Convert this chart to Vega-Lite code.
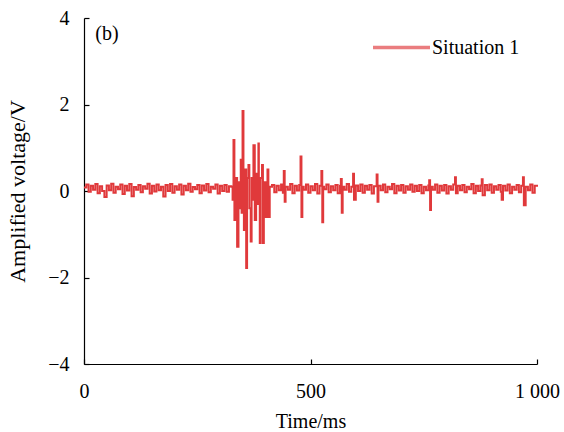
{
  "$schema": "https://vega.github.io/schema/vega-lite/v6.json",
  "width": 453,
  "height": 346,
  "autosize": {"type": "none"},
  "padding": {"left": 84, "top": 18, "right": 27, "bottom": 68},
  "config": {
    "font": "Liberation Serif, Times New Roman, serif",
    "view": {"stroke": null},
    "axis": {"grid": false, "domainColor": "#000", "tickColor": "#000", "labelColor": "#000", "titleColor": "#000", "labelFont": "Liberation Serif, Times New Roman, serif", "titleFont": "Liberation Serif, Times New Roman, serif", "labelFontSize": 20, "titleFontSize": 20, "titleFontWeight": "normal", "domainWidth": 1.2, "tickWidth": 1.2, "labelFlush": false}
  },
  "datasets": {
    "sig": [
      {"t":0,"v":0.08},{"t":5,"v":0.15},{"t":10,"v":-0.02},{"t":15,"v":0.12},{"t":20,"v":0.03},{"t":25,"v":0.16},{"t":30,"v":-0.05},{"t":35,"v":0.11},{"t":40,"v":0.0},{"t":45,"v":-0.14},
      {"t":50,"v":0.13},{"t":55,"v":0.02},{"t":60,"v":0.17},{"t":65,"v":-0.04},{"t":70,"v":0.1},{"t":75,"v":0.04},{"t":80,"v":0.15},{"t":85,"v":-0.07},{"t":90,"v":0.12},{"t":95,"v":0.01},
      {"t":100,"v":0.16},{"t":105,"v":-0.12},{"t":110,"v":0.09},{"t":115,"v":0.03},{"t":120,"v":0.14},{"t":125,"v":-0.03},{"t":130,"v":0.11},{"t":135,"v":0.05},{"t":140,"v":0.17},{"t":145,"v":-0.06},
      {"t":150,"v":0.12},{"t":155,"v":-0.01},{"t":160,"v":0.15},{"t":165,"v":0.02},{"t":170,"v":0.1},{"t":175,"v":-0.13},{"t":180,"v":0.14},{"t":185,"v":0.0},{"t":190,"v":0.16},{"t":195,"v":-0.04},
      {"t":200,"v":0.11},{"t":205,"v":0.03},{"t":210,"v":0.15},{"t":215,"v":-0.08},{"t":220,"v":0.12},{"t":225,"v":0.02},{"t":230,"v":0.17},{"t":235,"v":-0.02},{"t":240,"v":0.09},{"t":245,"v":0.04},
      {"t":250,"v":0.14},{"t":255,"v":-0.05},{"t":260,"v":0.13},{"t":265,"v":0.01},{"t":270,"v":0.16},{"t":275,"v":-0.03},{"t":280,"v":0.1},{"t":285,"v":0.05},{"t":290,"v":0.15},{"t":295,"v":-0.06},
      {"t":300,"v":0.12},{"t":305,"v":0.0},{"t":310,"v":0.14},{"t":315,"v":-0.02},{"t":320,"v":0.11},
      {"t":325,"v":0.1},{"t":328,"v":-0.2},{"t":330,"v":1.18},{"t":332,"v":-0.67},{"t":335,"v":0.3},{"t":338,"v":-1.29},{"t":341,"v":0.2},{"t":344,"v":-0.4},{"t":346,"v":0.72},{"t":348,"v":-0.5},
      {"t":350,"v":1.85},{"t":352,"v":-0.3},{"t":353,"v":-0.9},{"t":355,"v":0.5},{"t":358,"v":-1.78},{"t":360,"v":0.3},{"t":363,"v":0.6},{"t":365,"v":-0.4},{"t":368,"v":-1.17},{"t":370,"v":0.3},
      {"t":372,"v":-0.2},{"t":374,"v":1.06},{"t":377,"v":-0.67},{"t":380,"v":0.4},{"t":383,"v":-0.3},{"t":385,"v":1.1},{"t":386,"v":0.2},{"t":388,"v":-1.2},{"t":390,"v":0.3},{"t":393,"v":0.6},
      {"t":395,"v":-1.2},{"t":397,"v":0.2},{"t":400,"v":-0.6},{"t":403,"v":0.2},{"t":405,"v":0.5},{"t":407,"v":-0.6},{"t":410,"v":0.1},
      {"t":415,"v":0.14},{"t":420,"v":-0.03},{"t":425,"v":0.12},{"t":430,"v":0.02},{"t":435,"v":0.15},{"t":439,"v":-0.04},{"t":441,"v":0.46},{"t":443,"v":-0.25},{"t":445,"v":0.1},
      {"t":450,"v":0.03},{"t":455,"v":0.16},{"t":460,"v":-0.05},{"t":465,"v":0.12},{"t":470,"v":0.01},{"t":475,"v":0.14},{"t":478,"v":0.8},{"t":480,"v":-0.6},{"t":482,"v":0.1},
      {"t":485,"v":0.03},{"t":490,"v":0.15},{"t":495,"v":-0.04},{"t":500,"v":0.11},{"t":505,"v":0.02},{"t":510,"v":0.16},{"t":515,"v":-0.06},{"t":520,"v":0.12},{"t":524,"v":0.46},{"t":526,"v":-0.72},
      {"t":528,"v":0.1},{"t":530,"v":0.04},{"t":535,"v":0.15},{"t":540,"v":-0.03},{"t":545,"v":0.11},{"t":550,"v":0.02},{"t":555,"v":0.14},{"t":560,"v":-0.05},{"t":565,"v":0.12},{"t":567,"v":0.28},
      {"t":569,"v":-0.5},{"t":571,"v":0.1},{"t":575,"v":0.03},{"t":580,"v":0.16},{"t":585,"v":-0.02},{"t":590,"v":0.1},{"t":594,"v":0.4},{"t":596,"v":-0.2},{"t":600,"v":0.13},{"t":605,"v":0.0},
      {"t":610,"v":0.15},{"t":615,"v":-0.04},{"t":620,"v":0.12},{"t":625,"v":0.03},{"t":630,"v":0.14},{"t":635,"v":-0.06},{"t":640,"v":0.11},{"t":646,"v":0.38},{"t":648,"v":-0.25},{"t":650,"v":0.12},
      {"t":655,"v":0.02},{"t":660,"v":0.15},{"t":665,"v":-0.03},{"t":670,"v":0.1},{"t":675,"v":0.04},{"t":680,"v":0.16},{"t":685,"v":-0.05},{"t":690,"v":0.12},{"t":695,"v":0.01},{"t":700,"v":0.14},
      {"t":705,"v":-0.04},{"t":710,"v":0.11},{"t":715,"v":0.03},{"t":720,"v":0.15},{"t":725,"v":-0.02},{"t":730,"v":0.12},{"t":735,"v":0.0},{"t":740,"v":0.14},{"t":745,"v":-0.05},{"t":750,"v":0.1},
      {"t":755,"v":0.02},{"t":760,"v":0.13},{"t":762,"v":0.25},{"t":764,"v":-0.44},{"t":766,"v":0.1},{"t":770,"v":0.03},{"t":775,"v":0.15},{"t":780,"v":-0.04},{"t":785,"v":0.12},{"t":790,"v":0.01},
      {"t":795,"v":0.14},{"t":800,"v":-0.06},{"t":805,"v":0.11},{"t":810,"v":0.03},{"t":815,"v":0.15},{"t":819,"v":0.32},{"t":821,"v":-0.05},{"t":825,"v":0.12},{"t":830,"v":0.02},{"t":835,"v":0.14},
      {"t":840,"v":-0.03},{"t":845,"v":0.1},{"t":850,"v":0.04},{"t":855,"v":0.16},{"t":860,"v":-0.05},{"t":865,"v":0.12},{"t":870,"v":0.0},{"t":875,"v":0.13},{"t":878,"v":0.27},{"t":880,"v":-0.1},
      {"t":885,"v":0.14},{"t":890,"v":0.02},{"t":895,"v":0.15},{"t":900,"v":-0.04},{"t":905,"v":0.11},{"t":910,"v":0.03},{"t":915,"v":0.14},{"t":920,"v":-0.02},{"t":922,"v":-0.2},{"t":925,"v":0.12},
      {"t":930,"v":0.01},{"t":935,"v":0.15},{"t":940,"v":-0.05},{"t":945,"v":0.1},{"t":950,"v":0.03},{"t":955,"v":0.14},{"t":960,"v":-0.03},{"t":965,"v":0.12},{"t":969,"v":0.32},{"t":971,"v":-0.33},
      {"t":975,"v":0.1},{"t":980,"v":0.02},{"t":985,"v":0.15},{"t":990,"v":-0.04},{"t":995,"v":0.12},{"t":1000,"v":0.1}
    ]
  },
  "layer": [
    {
      "data": {"name": "sig"},
      "transform": [{"calculate": "'Situation 1'", "as": "series"}],
      "mark": {"type": "line", "strokeWidth": 2, "interpolate": "step-after"},
      "encoding": {
        "x": {"field": "t", "type": "quantitative", "scale": {"domain": [0, 1000], "nice": false},
          "axis": {"title": "Time/ms", "values": [0, 500, 1000], "tickSize": -5, "labelPadding": 22, "titlePadding": 10, "labelExpr": "datum.value == 1000 ? '1 000' : datum.label"}},
        "y": {"field": "v", "type": "quantitative", "scale": {"domain": [-4, 4], "nice": false},
          "axis": {"title": "Amplified voltage/V", "titleFontSize": 22, "values": [-4, -2, 0, 2, 4], "tickSize": -5, "labelPadding": 20, "titlePadding": 18}},
        "color": {"field": "series", "type": "nominal", "scale": {"range": ["#e0393b"]},
          "legend": {"title": null, "orient": "none", "legendX": 287, "legendY": -1, "symbolType": "stroke", "symbolSize": 3249, "symbolStrokeWidth": 3.5, "symbolOpacity": 0.65, "labelFontSize": 20, "labelFont": "Liberation Serif, Times New Roman, serif", "labelColor": "#000", "labelOffset": 0}}
      }
    },
    {
      "data": {"values": [{"lab": "(b)"}]},
      "mark": {"type": "text", "align": "left", "baseline": "middle", "fontSize": 20, "font": "Liberation Serif, Times New Roman, serif", "color": "#000"},
      "encoding": {"x": {"datum": 25}, "y": {"datum": 3.62}, "text": {"field": "lab"}}
    }
  ]
}
